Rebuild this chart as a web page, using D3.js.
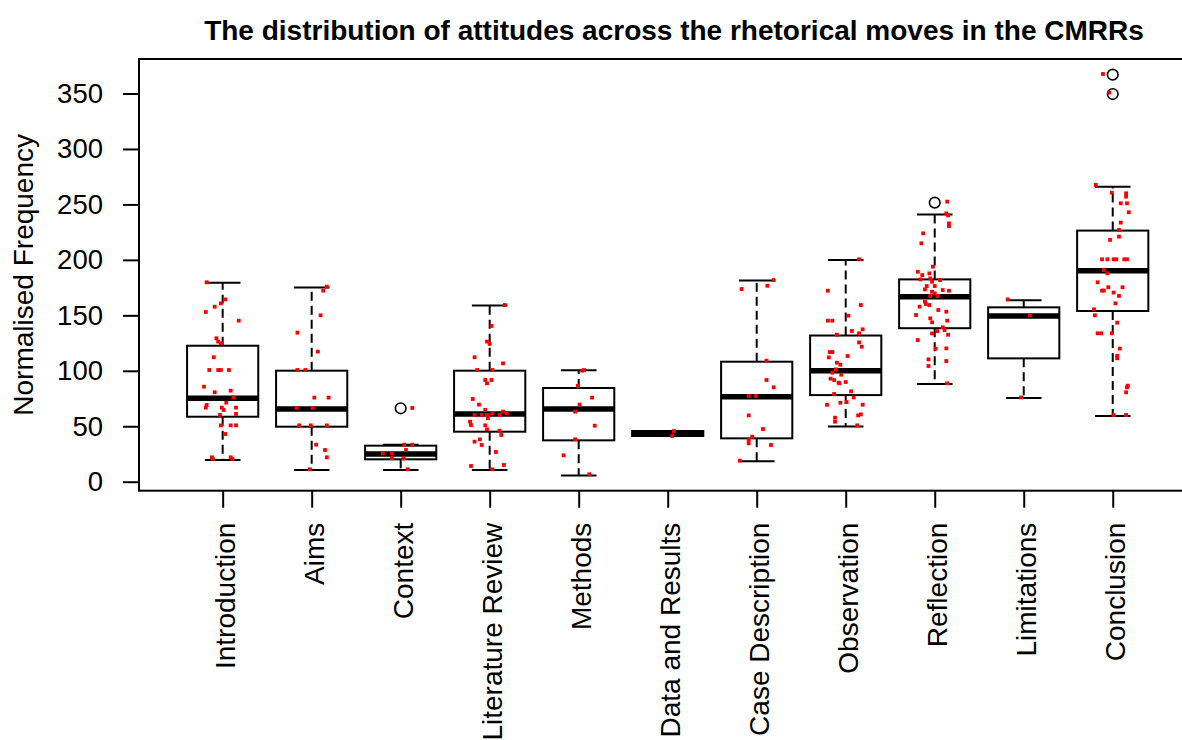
<!DOCTYPE html>
<html>
<head>
<meta charset="utf-8">
<script src="https://cdn.jsdelivr.net/npm/d3@7"></script>
<style>
  body { margin: 0; background: #fff; }
  svg { display: block; font-family: "Liberation Sans", Arial, sans-serif; }
</style>
</head>
<body>
<div class="chart-container"></div>
<script>
// rhetorical moves, in plot order
const moves = ["Introduction", "Aims", "Context", "Literature Review", "Methods",
  "Data and Results", "Case Description", "Observation", "Reflection", "Limitations", "Conclusion"];

// box statistics
const whiskerLow  = [19.6, 10.5, 10.5, 10.5, 5.6, 41.2, 18.4, 49.8, 88.0, 75.5, 59.3];
const lowerQuart  = [58.6, 49.6, 20.2, 45.1, 37.3, 41.2, 39.1, 78.1, 138.4, 111.2, 153.9];
const medians     = [75.2, 65.6, 24.9, 61.0, 65.6, 43.5, 76.6, 100.1, 166.7, 149.4, 190.3];
const upperQuart  = [122.6, 100.1, 32.5, 100.1, 84.5, 45.7, 108.2, 131.8, 182.4, 157.2, 226.4];
const whiskerHigh = [179.3, 175.0, 33.4, 158.8, 100.4, 45.7, 181.5, 200.0, 240.8, 163.5, 266.0];

// outliers: [move index (1-based), value]
const outliers = [[3, 66.2], [9, 251.6], [11, 367.0], [11, 349.5]];

// jittered observations: [value, jitter in category units]
const introduction = [[179.8,-0.18],[164.4,0.03],[160.8,-0.02],[157.8,-0.09],[153,-0.19],[145.2,0.18],
  [129.3,-0.07],[126.3,-0.05],[124.8,-0.02],[112.2,-0.10],[100.7,-0.15],[100.7,-0.05],[100.7,-0.02],
  [100.7,0.07],[85.7,-0.21],[80.6,-0.09],[82.1,0.09],[76.1,0.12],[71.3,0.04],[69.2,-0.18],[66.8,-0.19],
  [66.8,-0.01],[64.7,0.01],[66.8,0.15],[61.1,0.15],[60.2,-0.03],[50.8,-0.02],[50.8,0.09],[50.8,0.15],
  [43.0,0.03],[22.0,-0.12],[20.5,-0.11],[22.0,0.09],[20.5,0.11]];
const aims = [[175.9,0.17],[172.3,0.13],[150,0.10],[134.4,-0.16],[117.3,0.07],[100.7,-0.16],[100.7,-0.07],
  [75.8,0.03],[75.8,0.19],[66.5,-0.17],[66.5,0.01],[50.8,-0.14],[50.8,-0.01],[50.8,0.17],[33.4,0.05],
  [28.6,0.15],[22.0,0.17],[11.2,-0.02]];
const context = [[66.5,0.13],[33.4,0.04],[33.4,0.13],[28.6,0.06],[25.6,-0.20],[25.6,-0.10],[21.1,-0.10],
  [21.1,0.03],[11.2,0.08]];
const literatureReview = [[159.3,0.17],[140.4,0.02],[126.3,-0.03],[124.2,0],[112.2,-0.17],[106.7,0.15],
  [100.7,-0.14],[100.7,0.03],[91.7,-0.05],[91.7,0.02],[88.7,-0.03],[74.6,-0.19],[69.5,-0.12],[64.7,-0.05],
  [60.2,-0.17],[60.2,-0.09],[60.2,-0.03],[61.7,0.03],[60.2,0.11],[63.2,0.15],[61.7,0.19],[57.2,-0.02],
  [54.1,-0.22],[51.1,-0.21],[50.8,-0.05],[47.2,-0.03],[46.0,0.11],[42.1,0.13],[38.2,-0.11],[36.1,-0.17],
  [33.1,-0.09],[26.8,0.07],[14.2,-0.21],[11.2,0.03],[15.1,0.16]];
const methods = [[100.7,0.06],[100.1,0.04],[86.3,-0.01],[75.8,0.15],[69.5,0.01],[63.2,-0.04],[50.5,0.18],
  [38.2,-0.04],[23.8,-0.17],[6.7,0.12]];
const dataAndResults = [[45.7,0.07],[41.2,0.05]];
const caseDescription = [[181.8,0.19],[176.7,0.12],[173.7,-0.17],[109.1,0.11],[91.7,0.11],[85.1,0.19],
  [77.3,-0.09],[77.3,-0.01],[59.8,-0.09],[47.5,0.07],[40.6,-0.05],[37.6,-0.09],[34.6,-0.09],[33.1,0.16],
  [19.0,-0.19]];
const observation = [[200.5,0.15],[172.2,-0.20],[159.3,0.17],[149.7,0.03],[145.2,-0.20],[145.2,-0.15],
  [135.9,0.07],[137.4,0.19],[133.8,0.15],[132.6,-0.10],[125.6,0.15],[121.7,0.18],[116.9,-0.18],[116.9,-0.15],
  [113.3,0.02],[112.1,-0.19],[107.3,-0.10],[105.5,-0.06],[101.3,-0.11],[98.3,-0.15],[96.5,-0.05],[92.9,-0.17],
  [91.7,-0.13],[89.3,-0.08],[88.7,-0.07],[89.9,0],[81.5,0.06],[79.1,-0.13],[76.0,0.09],[71.2,-0.06],
  [71.8,0.01],[69.4,-0.21],[69.4,0.19],[57.7,-0.12],[54.1,-0.12],[59.8,0.14],[60.7,0.17],[50.8,0.13]];
const reflection = [[252.5,0.14],[241.9,0.13],[240.1,0.15],[232.9,0.16],[230.5,0.16],[223.9,-0.13],
  [214.9,-0.15],[193.9,-0.02],[189.3,-0.19],[186.3,-0.14],[187.8,-0.06],[183.3,-0.05],[182.4,-0.16],
  [181.8,0.06],[180.3,-0.03],[176.4,-0.09],[176.4,0],[173.4,-0.11],[172.8,0.09],[172.2,0.16],[171.3,-0.03],
  [169.8,0],[167.4,-0.05],[167.4,0.03],[162.3,-0.11],[160.2,-0.10],[159.3,-0.06],[157.8,-0.17],[154.8,0.04],
  [150.3,-0.21],[153.3,0.13],[147.3,-0.05],[143.7,-0.03],[145.2,0.14],[139.2,0.09],[136.7,0.11],[135.8,0.03],
  [133.7,-0.03],[132.5,0.15],[127.7,-0.19],[119.9,0.01],[120.2,0.13],[110.3,-0.07],[104.3,-0.07],
  [108.8,0.13],[88.7,0.14]];
const limitations = [[164.4,-0.18],[150.0,0.07],[76.0,-0.03]];
const conclusion = [[367.6,-0.11],[350.8,-0.04],[267.6,-0.19],[260.6,-0.01],[260.0,0.15],[257.0,0.15],
  [251.0,0.09],[251.0,0.16],[242.9,0.18],[233.6,0.09],[227.0,0.07],[218.0,-0.03],[221.0,0.07],[200.5,-0.12],
  [200.5,-0.06],[200.5,0.01],[200.5,0.04],[200.5,0.13],[200.5,0.16],[190.9,-0.10],[187.9,-0.06],
  [179.8,-0.17],[172.3,-0.12],[172.3,-0.10],[175.3,-0.05],[170.5,0.01],[167.5,0.07],[175.3,0.11],
  [160.8,0.03],[155.4,-0.21],[150.0,-0.20],[143.4,0.05],[133.8,-0.17],[133.8,-0.13],[133.8,-0.01],
  [120.0,0.08],[113.4,0.05],[111.3,0.05],[86.6,0.17],[85.1,0.16],[80.6,0.15],[60.2,0.01],[60.2,0.15]];

const observations = [introduction, aims, context, literatureReview, methods, dataAndResults,
  caseDescription, observation, reflection, limitations, conclusion];

const width = 1182, height = 740;

const svg = d3.select(".chart-container").append("svg")
    .attr("width", width)
    .attr("height", height);

// R style: xlim c(0.5, 11.5) padded by 4%
const x = d3.scaleLinear().domain([0.06, 11.94]).range([139, 1196.4]);
const y = d3.scaleLinear().domain([-8.1, 381.1]).range([490.7, 59]);

const boxWidth = (x(1.4) - x(0.6));
const stapleWidth = boxWidth / 2;

const stats = moves.map((m, i) => ({
  pos: i + 1,
  lo: whiskerLow[i], q1: lowerQuart[i], med: medians[i], q3: upperQuart[i], hi: whiskerHigh[i]
}));

const boxes = svg.append("g").attr("class", "boxes");

const g = boxes.selectAll(".box")
    .data(stats)
  .enter().append("g")
    .attr("class", "box");

// whiskers
g.append("line")
    .attr("x1", d => x(d.pos)).attr("x2", d => x(d.pos))
    .attr("y1", d => y(d.q3)).attr("y2", d => y(d.hi))
    .attr("stroke", "#000").attr("stroke-width", 2).attr("stroke-dasharray", "9,5");
g.append("line")
    .attr("x1", d => x(d.pos)).attr("x2", d => x(d.pos))
    .attr("y1", d => y(d.q1)).attr("y2", d => y(d.lo))
    .attr("stroke", "#000").attr("stroke-width", 2).attr("stroke-dasharray", "9,5");

// staples
["lo", "hi"].forEach((k) => {
  g.append("line")
      .attr("x1", d => x(d.pos) - stapleWidth / 2).attr("x2", d => x(d.pos) + stapleWidth / 2)
      .attr("y1", d => y(d[k])).attr("y2", d => y(d[k]))
      .attr("stroke", "#000").attr("stroke-width", 2);
});

// box
g.append("rect")
    .attr("x", d => x(d.pos) - boxWidth / 2)
    .attr("y", d => y(d.q3))
    .attr("width", boxWidth)
    .attr("height", d => y(d.q1) - y(d.q3))
    .attr("fill", "#fff")
    .attr("stroke", "#000").attr("stroke-width", 2);

// median
g.append("line")
    .attr("x1", d => x(d.pos) - boxWidth / 2).attr("x2", d => x(d.pos) + boxWidth / 2)
    .attr("y1", d => y(d.med)).attr("y2", d => y(d.med))
    .attr("stroke", "#000").attr("stroke-width", 5.5);

// outliers
svg.append("g").selectAll("circle")
    .data(outliers)
  .enter().append("circle")
    .attr("cx", d => x(d[0]))
    .attr("cy", d => y(d[1]))
    .attr("r", 5.3)
    .attr("fill", "none")
    .attr("stroke", "#000")
    .attr("stroke-width", 1.6);

// jittered points on top
const pts = [];
observations.forEach((list, i) => {
  list.forEach((p) => pts.push({pos: i + 1 + p[1], value: p[0]}));
});
svg.append("g").selectAll("rect")
    .data(pts)
  .enter().append("rect")
    .attr("x", d => x(d.pos) - 1.9)
    .attr("y", d => y(d.value) - 1.9)
    .attr("width", 3.8)
    .attr("height", 3.8)
    .attr("fill", "#ff0000");

// frame
svg.append("rect")
    .attr("x", x(0.06)).attr("y", y(381.1))
    .attr("width", x(11.94) - x(0.06))
    .attr("height", y(-8.1) - y(381.1))
    .attr("fill", "none")
    .attr("stroke", "#000").attr("stroke-width", 2);

// y axis
const yAxis = svg.append("g")
    .attr("transform", "translate(" + x(0.06) + ",0)")
    .call(d3.axisLeft(y).tickValues(d3.range(0, 351, 50)).tickSize(16).tickPadding(20));
yAxis.select(".domain").remove();
yAxis.selectAll("line").attr("stroke-width", 2);
yAxis.selectAll("text")
    .attr("font-size", 27.5)
    .attr("font-family", "Liberation Sans, Arial, sans-serif")
    .attr("fill", "#000");

// x axis with vertical labels
const xAxis = svg.append("g")
    .attr("transform", "translate(0," + y(-8.1) + ")")
    .call(d3.axisBottom(x).tickValues(d3.range(1, 12)).tickSize(17).tickFormat(i => moves[i - 1]));
xAxis.select(".domain").remove();
xAxis.selectAll("line").attr("stroke-width", 2);
xAxis.selectAll("text")
    .attr("font-size", 28)
    .attr("font-family", "Liberation Sans, Arial, sans-serif")
    .attr("fill", "#000")
    .attr("transform", "rotate(-90)")
    .attr("x", -32)
    .attr("y", 0)
    .attr("dy", "0.42em")
    .style("text-anchor", "end");

// axis title
svg.append("text")
    .attr("transform", "translate(23," + ((y(-8.1) + y(381.1)) / 2) + ") rotate(-90)")
    .attr("dy", "0.35em")
    .style("text-anchor", "middle")
    .attr("font-size", 28)
    .text("Normalised Frequency");

// chart title
svg.append("text")
    .attr("x", 674)
    .attr("y", 40)
    .style("text-anchor", "middle")
    .attr("font-size", 28)
    .attr("font-weight", "bold")
    .text("The distribution of attitudes across the rhetorical moves in the CMRRs");
</script>
</body>
</html>
